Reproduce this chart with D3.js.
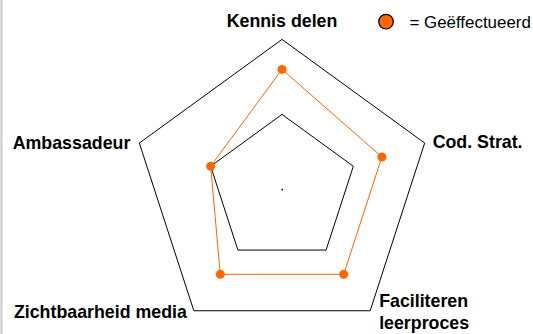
<!DOCTYPE html>
<html><head><meta charset="utf-8">
<script src="https://cdn.jsdelivr.net/npm/d3@7"></script>
<style>html,body{margin:0;padding:0;background:#fff;}svg{display:block;}</style>
</head><body>
<svg id="chart" width="533" height="334"></svg>
<script>
const axes = ["Kennis delen", "Cod. Strat.", "Faciliteren leerproces", "Zichtbaarheid media", "Ambassadeur"];
const values = [1.6, 1.4, 1.4, 1.4, 1.0];
const gridLevels = [1, 2];
const seriesName = "Geëffectueerd";
const maxValue = 2;

const svg = d3.select("#chart");
const cx = 282, cy = 189.4, R = 150;
const r = d3.scaleLinear().domain([0, maxValue]).range([0, R]);
const angle = i => i * 2 * Math.PI / axes.length;
const pt = (i, v) => [cx + r(v) * Math.sin(angle(i)), cy - r(v) * Math.cos(angle(i))];

// left border
svg.append("line").attr("x1", 1.5).attr("x2", 1.5).attr("y1", 0).attr("y2", 334)
  .attr("stroke", "#c8c8c8").attr("stroke-width", 2);

const line = d3.line().curve(d3.curveLinearClosed);
svg.selectAll(".grid").data(gridLevels).join("path")
  .attr("d", lv => line(axes.map((a, i) => pt(i, lv))))
  .attr("fill", "none").attr("stroke", "#000").attr("stroke-width", 1);

svg.append("rect").attr("x", cx - 0.5).attr("y", cy - 0.5).attr("width", 1.5).attr("height", 1.5).attr("fill", "#000");

svg.append("path").attr("d", line(values.map((v, i) => pt(i, v))))
  .attr("fill", "none").attr("stroke", "#ff6600").attr("stroke-width", 1);
svg.selectAll(".pt").data(values).join("circle")
  .attr("cx", (v, i) => pt(i, v)[0]).attr("cy", (v, i) => pt(i, v)[1])
  .attr("r", 4.5).attr("fill", "#ff6600");

// labels
const labelOffsets = [
  {dx: 0, dy: -12.6, anchor: "middle"},
  {dx: 8, dy: 5.4, anchor: "start"},
  {dx: 9, dy: -4, anchor: "start"},
  {dx: -7, dy: 7.6, anchor: "end"},
  {dx: -9, dy: 6.4, anchor: "end"}
];
const labelLines = [["Kennis delen"], ["Cod. Strat."], ["Faciliteren", "leerproces"], ["Zichtbaarheid media"], ["Ambassadeur"]];
axes.forEach((a, i) => {
  const [x, y] = pt(i, maxValue);
  const o = labelOffsets[i];
  const t = svg.append("text").attr("x", x + o.dx).attr("y", y + o.dy)
    .attr("text-anchor", o.anchor)
    .attr("font-family", "Liberation Sans, Arial, sans-serif")
    .attr("font-weight", "bold").attr("font-size", 17.8).attr("fill", "#000");
  labelLines[i].forEach((l, j) => {
    t.append("tspan").attr("x", x + o.dx).attr("dy", j === 0 ? 0 : 22.3).text(l);
  });
});

// legend
svg.append("circle").attr("cx", 386).attr("cy", 21.7).attr("r", 7.3)
  .attr("fill", "#ff6600").attr("stroke", "#000").attr("stroke-width", 1.2);
svg.append("text").attr("x", 409.5).attr("y", 27.5)
  .attr("font-family", "Liberation Sans, Arial, sans-serif").attr("font-size", 16.9).attr("fill", "#000")
  .text("= " + seriesName);
</script>
</body></html>
